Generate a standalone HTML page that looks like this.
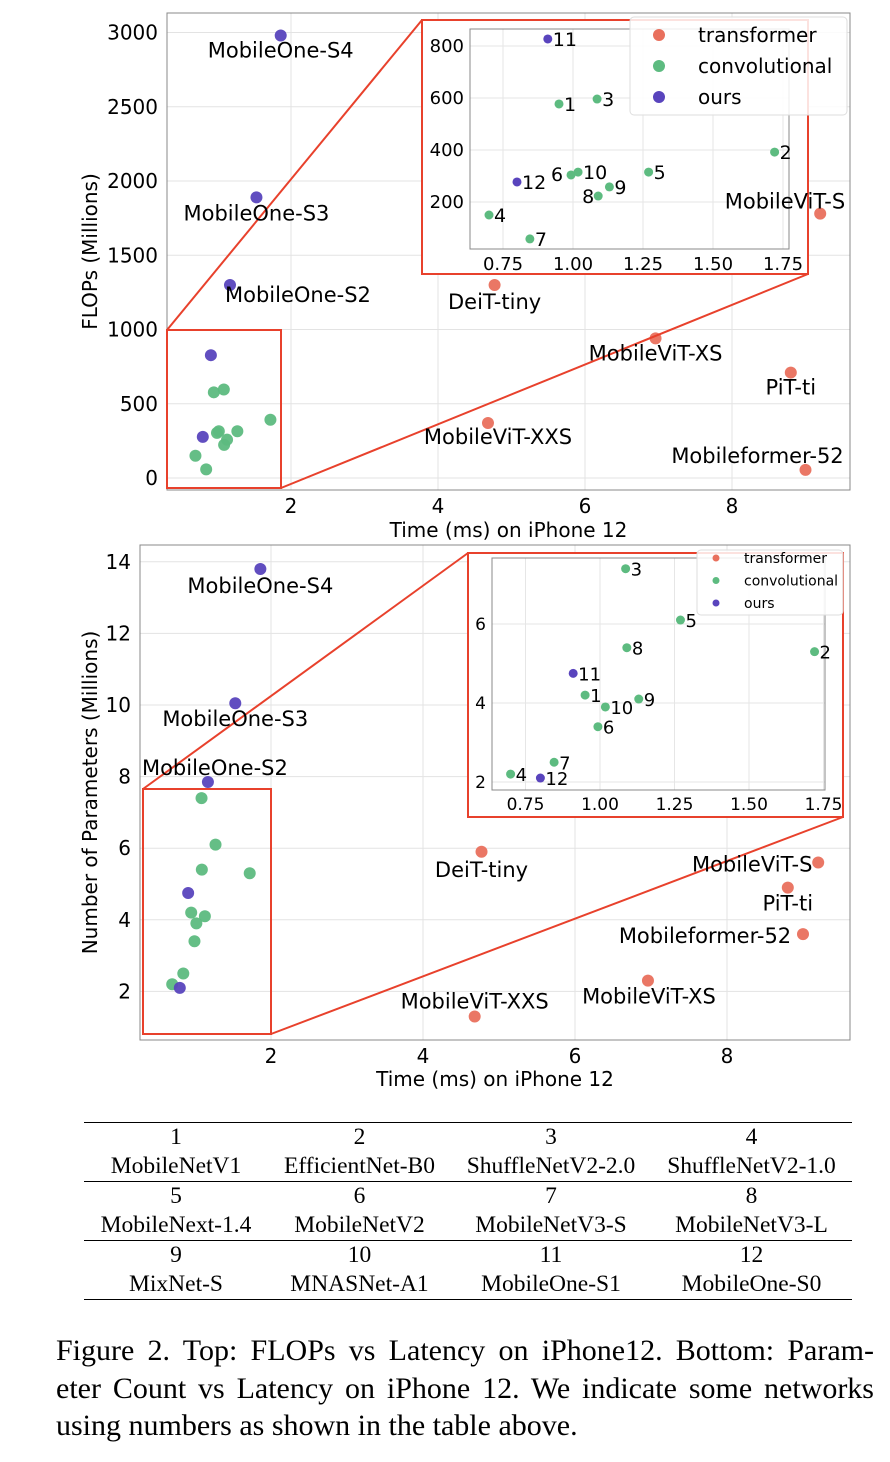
<!DOCTYPE html>
<html><head><meta charset="utf-8"><style>
body{margin:0;background:#fff;width:890px;height:1462px;overflow:hidden;position:relative;font-family:"DejaVu Sans","Liberation Sans",sans-serif}
svg{position:absolute;left:0;top:0}
.tbl{position:absolute;left:84px;top:1122px;width:768px;border-collapse:collapse;font-family:"Liberation Serif",serif;font-size:23.5px;text-align:center;table-layout:fixed}
.tbl td{padding:0;height:29px;line-height:29px;white-space:nowrap}
.tbl tr.h td{border-top:1px solid #000}
.tbl tr.last td{border-bottom:1px solid #000}
.cap{position:absolute;left:56px;top:1332px;width:818px;font-family:"Liberation Serif",serif;font-size:30px;line-height:37.5px}
.cap div{text-align:justify;text-align-last:justify;white-space:nowrap}
.cap div.l{text-align-last:left}
</style></head><body>
<svg id="chart" width="890" height="1110"></svg>
<table class="tbl">
<colgroup><col style="width:184px"><col style="width:183px"><col style="width:200px"><col style="width:201px"></colgroup>
<tr class="h"><td>1</td><td>2</td><td>3</td><td>4</td></tr>
<tr><td>MobileNetV1</td><td>EfficientNet-B0</td><td>ShuffleNetV2-2.0</td><td>ShuffleNetV2-1.0</td></tr>
<tr class="h"><td>5</td><td>6</td><td>7</td><td>8</td></tr>
<tr><td>MobileNext-1.4</td><td>MobileNetV2</td><td>MobileNetV3-S</td><td>MobileNetV3-L</td></tr>
<tr class="h"><td>9</td><td>10</td><td>11</td><td>12</td></tr>
<tr class="last"><td>MixNet-S</td><td>MNASNet-A1</td><td>MobileOne-S1</td><td>MobileOne-S0</td></tr>
</table>
<div class="cap"><div>Figure 2. Top: FLOPs vs Latency on iPhone12. Bottom: Param-</div><div>eter Count vs Latency on iPhone 12. We indicate some networks</div><div class="l">using numbers as shown in the table above.</div></div>
<script>
// numbered networks 1..12
const numIds = ["1","2","3","4","5","6","7","8","9","10","11","12"];
const numTime = [0.95,1.72,1.086,0.70,1.27,0.993,0.846,1.09,1.13,1.018,0.91,0.80];
const numFlops = [577,392,596,150,315,304,58,223,258,315,827,277];
const numParams = [4.2,5.3,7.4,2.2,6.1,3.4,2.5,5.4,4.1,3.9,4.75,2.1];
const numType = ["c","c","c","c","c","c","c","c","c","c","o","o"];
// named networks
const namedIds = ["MobileOne-S4","MobileOne-S3","MobileOne-S2","DeiT-tiny","MobileViT-XS","MobileViT-XXS","MobileViT-S","PiT-ti","Mobileformer-52"];
const namedTime = [1.86,1.53,1.17,4.77,6.96,4.68,9.2,8.8,9.0];
const namedFlops = [2980,1890,1300,1300,940,370,1780,710,55];
const namedParams = [13.8,10.05,7.85,5.9,2.3,1.3,5.6,4.9,3.6];
const namedType = ["o","o","o","t","t","t","t","t","t"];
const xTicks = [2,4,6,8];
const flopTicks = [0,500,1000,1500,2000,2500,3000];
const paramTicks = [2,4,6,8,10,12,14];
const insetXTicks = [0.75,1.00,1.25,1.50,1.75];
const insetFlopTicks = [200,400,600,800];
const insetParamTicks = [2,4,6];

const COL={t:"#e9705d",c:"#5dbb80",o:"#5944bd"};
const NS="http://www.w3.org/2000/svg";
const svg=document.getElementById('chart');
function mk(tag,attrs,parent){const e=document.createElementNS(NS,tag);for(const k in attrs)e.setAttribute(k,attrs[k]);(parent||svg).appendChild(e);return e;}
function txt(s,x,y,size,anchor,parent){const t=mk('text',{x:x,y:y,'font-size':size,'text-anchor':anchor||'middle','fill':'#000'},parent);t.textContent=s;return t;}

// label placement (styling) for named points: [dx,dy,anchor]
const topLab=[[0,22,'middle'],[0,23,'middle'],[-5,17,'start'],[0,24,'middle'],[0,22,'middle'],[10,21,'middle'],[25,-5,'end'],[0,22,'middle'],[-48,-7,'middle']];
const botLab=[[0,24,'middle'],[0,23,'middle'],[7,-7,'middle'],[0,25,'middle'],[1,23,'middle'],[0,-8,'middle'],[-66,9,'middle'],[0,23,'middle'],[-98,9,'middle']];
const numLabTop={"6":[-14,6,'middle'],"8":[-10,7,'middle']};
const numLabBot={};

function panel(cfg){
  const g=mk('g',{});  
  const X=v=>cfg.x0px+v*cfg.xs, Y=v=>cfg.y0px-v*cfg.ys;
  const f=cfg.frame;
  cfg.xt.forEach(v=>{mk('line',{x1:X(v),x2:X(v),y1:f[1],y2:f[3],stroke:'#e3e3e3'},g);const t=txt(String(v),X(v),f[3]+23,20,'middle',g);});
  cfg.yt.forEach(v=>{mk('line',{x1:f[0],x2:f[2],y1:Y(v),y2:Y(v),stroke:'#e3e3e3'},g);const t=txt(String(v),f[0]-9,Y(v)+7,20,'end',g);});
  mk('rect',{x:f[0],y:f[1],width:f[2]-f[0],height:f[3]-f[1],fill:'none',stroke:'#888','stroke-width':1},g);
  const xl=txt(cfg.xlabel,(f[0]+f[2])/2,cfg.xlabY,20,'middle',g);
  const yl=txt(cfg.ylabel,0,0,20,'middle',g);yl.setAttribute('transform',`translate(${cfg.ylabX},${(f[1]+f[3])/2}) rotate(-90)`);
  numIds.forEach((id,i)=>{const c=mk('circle',{cx:X(numTime[i]),cy:Y(cfg.numY[i]),r:6,fill:COL[numType[i]],opacity:0.95},g);});
  namedIds.forEach((id,i)=>{const c=mk('circle',{cx:X(namedTime[i]),cy:Y(cfg.namedY[i]),r:6,fill:COL[namedType[i]],opacity:0.95},g);});
  const z=cfg.zoomRect, ib=cfg.insetBox;
  mk('rect',{x:z[0],y:z[1],width:z[2]-z[0],height:z[3]-z[1],fill:'none',stroke:'#e8412c','stroke-width':2},g);
  mk('line',{x1:z[0],y1:z[1],x2:ib[0],y2:ib[1],stroke:'#e8412c','stroke-width':2},g);
  mk('line',{x1:z[2],y1:z[3],x2:ib[2],y2:ib[3],stroke:'#e8412c','stroke-width':2},g);
  mk('rect',{x:ib[0],y:ib[1],width:ib[2]-ib[0],height:ib[3]-ib[1],fill:'#fff',stroke:'#e8412c','stroke-width':2},g);
  const ig=mk('g',{},g);
  const IX=v=>cfg.ix1+(v-1)*cfg.ixs, IY=v=>cfg.iy0-v*cfg.iys, fi=cfg.iframe;
  cfg.ixt.forEach(v=>{mk('line',{x1:IX(v),x2:IX(v),y1:fi[1],y2:fi[3],stroke:'#e6e6e6'},ig);txt(v.toFixed(2),IX(v),fi[3]+cfg.ifs+3,cfg.ifs,'middle',ig);});
  cfg.iyt.forEach(v=>{mk('line',{x1:fi[0],x2:fi[2],y1:IY(v),y2:IY(v),stroke:'#e6e6e6'},ig);txt(String(v),fi[0]-6,IY(v)+6,cfg.ifs,'end',ig);});
  mk('rect',{x:fi[0],y:fi[1],width:fi[2]-fi[0],height:fi[3]-fi[1],fill:'none',stroke:'#888'},ig);
  numIds.forEach((id,i)=>{const px=IX(numTime[i]),py=IY(cfg.numY[i]);
    const c=mk('circle',{cx:px,cy:py,r:4.5,fill:COL[numType[i]]},ig);
    const L=cfg.numLab[id]||[5,7,'start'];txt(id,px+L[0],py+L[1],cfg.ifs+1,L[2],ig);});
  const lg=mk('g',{},g);
  const l=cfg.leg;
  mk('rect',{x:l.x,y:l.y,width:l.w,height:l.h,rx:4,fill:'#fff','fill-opacity':0.85,stroke:'#ddd'},lg);
  [['transformer','t'],['convolutional','c'],['ours','o']].forEach((e,k)=>{const yy=l.y+l.first+k*l.step;
    const c=mk('circle',{cx:l.mx,cy:yy,r:l.r,fill:COL[e[1]]},lg);
    const t=txt(e[0],l.tx,yy+l.fs*0.35,l.fs,'start',lg);});
  namedIds.forEach((id,i)=>{const px=X(namedTime[i]),py=Y(cfg.namedY[i]);
    const L=cfg.lab[i];const t=txt(id,px+L[0],py+L[1],21,L[2],g);});
}
panel({name:'flops-vs-latency-chart',frame:[167,13,850,490],x0px:144,xs:73.5,y0px:478,ys:0.1485,xt:xTicks,yt:flopTicks,
  xlabel:'Time (ms) on iPhone 12',xlabY:537,ylabel:'FLOPs (Millions)',ylabX:97,numY:numFlops,namedY:namedFlops,lab:topLab,
  zoomRect:[167,330,281,488],insetBox:[422,20,808,274],ix1:573,ixs:280,iy0:254,iys:0.26,ixt:insetXTicks,iyt:insetFlopTicks,iframe:[470,29,789,249],ifs:18,numLab:numLabTop,
  leg:{x:630,y:17,w:217,h:98,first:18,step:31,mx:659,tx:698,r:6,fs:20}});
panel({name:'params-vs-latency-chart',frame:[140,545,850,1040],x0px:119,xs:76,y0px:1063,ys:35.8,xt:xTicks,yt:paramTicks,
  xlabel:'Time (ms) on iPhone 12',xlabY:1086,ylabel:'Number of Parameters (Millions)',ylabX:97,numY:numParams,namedY:namedParams,lab:botLab,
  zoomRect:[143,789,271,1034],insetBox:[468,553,843,817],ix1:600,ixs:298,iy0:861,iys:39.5,ixt:insetXTicks,iyt:insetParamTicks,iframe:[492,558,825,790],ifs:17,numLab:numLabBot,
  leg:{x:697,y:550,w:146,h:65,first:8,step:22.5,mx:716,tx:744,r:3.5,fs:14}});
</script>
</body></html>
